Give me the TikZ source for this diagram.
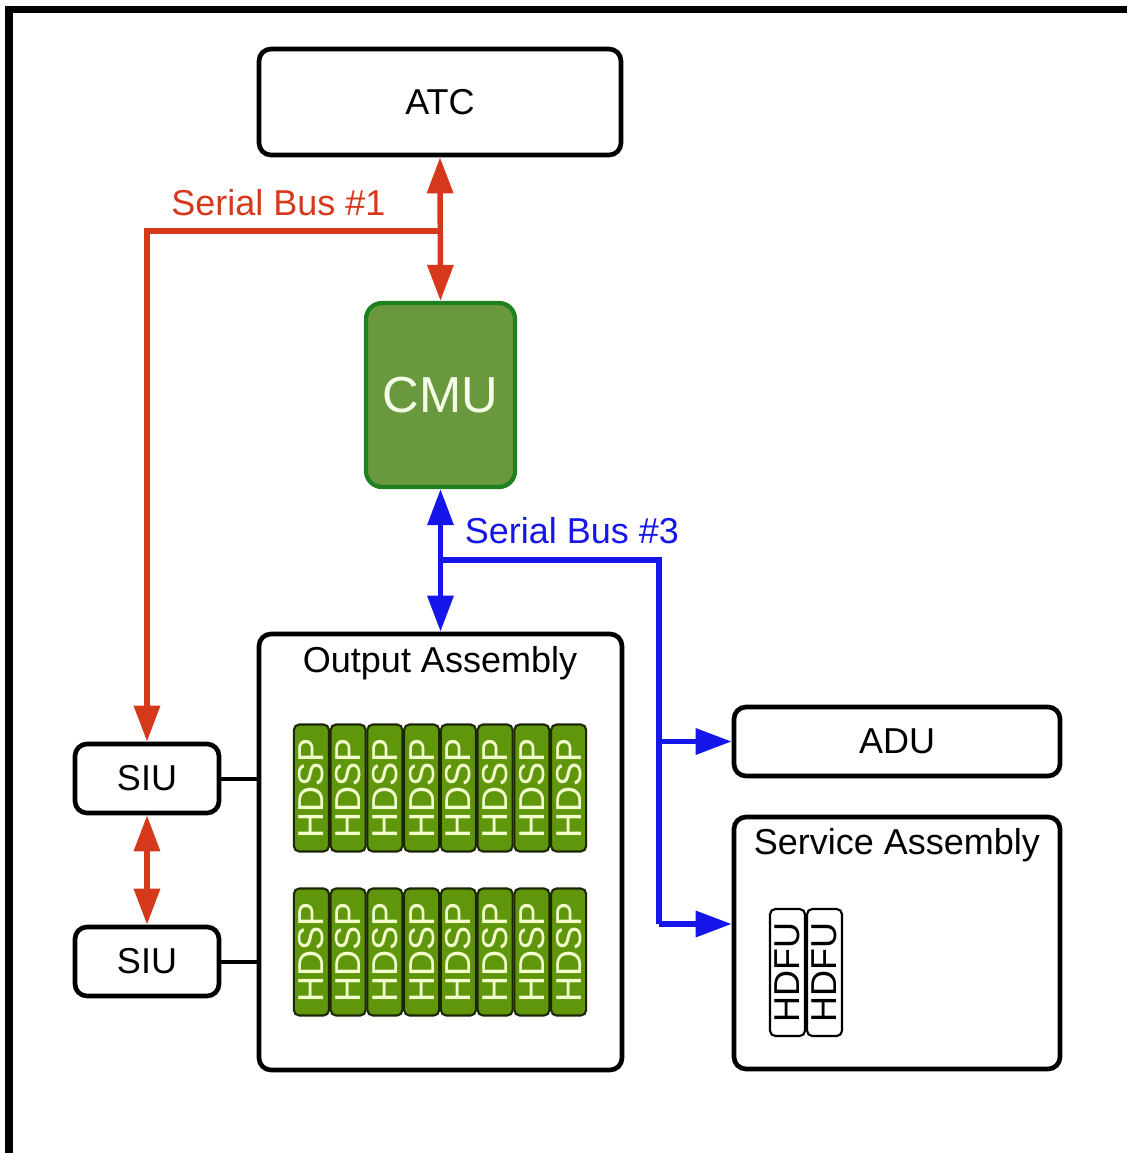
\documentclass[tikz,border=0pt]{standalone}
\usepackage{fontspec}
\setmainfont{Liberation Sans}
\usetikzlibrary{arrows.meta,calc}
\definecolor{busred}{RGB}{214,56,28}
\definecolor{busblue}{RGB}{22,22,235}
\definecolor{cmufill}{RGB}{106,152,62}
\definecolor{cmuline}{RGB}{30,128,30}
\definecolor{hdspfill}{RGB}{96,150,12}
\definecolor{hdspline}{RGB}{28,40,4}
\definecolor{hdsptext}{RGB}{242,255,205}
\tikzset{
  box/.style={draw, line width=3.5pt, rounded corners=9pt, fill=white, inner sep=0pt,
    font=\fontsize{27}{30}\selectfont},
  hdsp/.style={draw=hdspline, line width=1.6pt, fill=hdspfill, rounded corners=4pt, rotate=90,
    inner sep=0pt, text=hdsptext, font=\fontsize{27}{30}\selectfont,
    minimum width=127*0.75pt, minimum height=35*0.75pt},
  hdfu/.style={draw=black, line width=1.6pt, fill=white, rounded corners=4pt, rotate=90,
    inner sep=0pt, text=black, font=\fontsize{27}{30}\selectfont,
    minimum width=127*0.75pt, minimum height=35*0.75pt},
  lbl/.style={inner sep=0pt, font=\fontsize{27}{30}\selectfont},
  redbus/.style={draw=busred, line width=4.1pt},
  bluebus/.style={draw=busblue, line width=4.1pt},
  tip/.style={arrows={-Triangle[length=27pt,width=19pt]}},
  dtip/.style={arrows={Triangle[length=27pt,width=19pt]-Triangle[length=27pt,width=19pt]}},
}
\begin{document}
\begin{tikzpicture}[x=0.75pt,y=-0.75pt]
\useasboundingbox (0,0) rectangle (1127,1153);
% frame
\draw[line width=5.5pt, line join=miter] (9,1153) -- (9,9.3) -- (1127,9.3);

% boxes
\node[box, minimum width=362*0.75pt, minimum height=106*0.75pt] (atc) at (440,102) {ATC};
\node[draw=cmuline, fill=cmufill, line width=3.2pt, rounded corners=12pt, inner sep=0pt,
  minimum width=149*0.75pt, minimum height=184*0.75pt, text={rgb,255:red,245;green,255;blue,232},
  font=\fontsize{38}{42}\selectfont] (cmu) at (440.5,395) {CMU};
\node[box, minimum width=363*0.75pt, minimum height=436*0.75pt] (oa) at (440.5,852) {};
\node[lbl] (oalbl) at (440,663) {Output Assembly};
\node[box, minimum width=144*0.75pt, minimum height=69*0.75pt] (siu1) at (147,778.5) {SIU};
\node[box, minimum width=144*0.75pt, minimum height=69*0.75pt] (siu2) at (147,961.5) {SIU};
\node[box, minimum width=326*0.75pt, minimum height=69*0.75pt] (adu) at (897,741.5) {ADU};
\node[box, minimum width=326*0.75pt, minimum height=252*0.75pt] (sa) at (897,943) {};
\node[lbl] (salbl) at (897,845) {Service Assembly};

% HDSP rows
\foreach \i in {0,...,7} {
  \node[hdsp] (hta\i) at ({311.4+36.75*\i},788) {HDSP};
  \node[hdsp] (htb\i) at ({311.4+36.75*\i},952) {HDSP};
}
% HDFU
\node[hdfu] (hdfu1) at (787.5,972.5) {HDFU};
\node[hdfu] (hdfu2) at (824.5,972.5) {HDFU};

% SIU to OA connectors
\draw[line width=3pt] (siu1.east) -- (siu1.east -| oa.west);
\draw[line width=3pt] (siu2.east) -- (siu2.east -| oa.west);

% red bus
\draw[redbus, dtip] (atc.south) -- (cmu.north);
\coordinate (r1) at (440,231);
\draw[redbus, tip] (r1) -| (siu1.north);
\draw[redbus, dtip] (siu1.south) -- (siu2.north);
\node[lbl, text=busred] (sb1) at (278.5,203) {Serial Bus \#1};

% blue bus
\draw[bluebus, dtip] (cmu.south) -- (oa.north);
\coordinate (b1) at (440,560);
\coordinate (b2) at (659,924);
\coordinate (b3) at (659,741.5);
\draw[bluebus] (b1) -| (b2);
\draw[bluebus, tip] (b3) -- (b3 -| adu.west);
\draw[bluebus, tip] (b2) -- (b2 -| sa.west);
\node[lbl, text=busblue] (sb3) at (572,531) {Serial Bus \#3};
\end{tikzpicture}
\end{document}
